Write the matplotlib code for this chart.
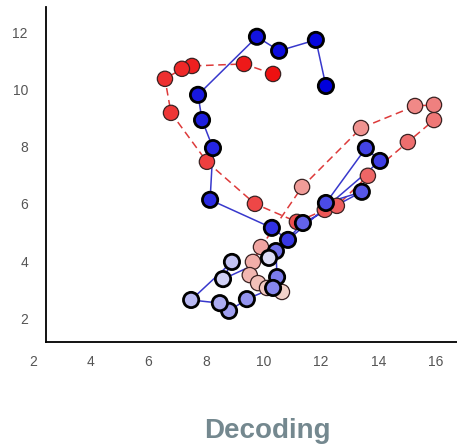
import numpy as np
import matplotlib.pyplot as plt
from matplotlib.colors import LinearSegmentedColormap

# decoded trajectory (blue, solid), in time order
blue_x = [12.18, 11.83, 10.55, 9.78, 7.73, 7.87, 8.25, 8.15, 10.30, 10.86,
          14.06, 13.57, 12.18, 13.43, 11.38, 10.44, 10.48, 10.34, 9.43, 8.81,
          8.49, 7.49, 8.91, 8.60, 10.20]
blue_y = [10.12, 11.73, 11.35, 11.84, 9.81, 8.93, 7.95, 6.14, 5.16, 4.74,
          7.50, 7.95, 6.03, 6.42, 5.33, 4.35, 3.44, 3.06, 2.67, 2.26,
          2.53, 2.64, 3.97, 3.37, 4.11]

# true trajectory (red, dashed)
red_x = [10.34, 9.33, 7.52, 7.17, 6.58, 6.79, 8.04, 9.71, 11.17, 12.14,
         12.56, 13.64, 15.03, 15.94, 15.94, 15.28, 13.40, 11.35, 9.92, 9.64,
         9.53, 9.82, 10.13, 10.65]
red_y = [10.54, 10.89, 10.82, 10.72, 10.37, 9.18, 7.47, 6.00, 5.37, 5.79,
         5.93, 6.98, 8.16, 8.93, 9.46, 9.42, 8.65, 6.59, 4.49, 3.97,
         3.51, 3.23, 3.06, 2.92]

x_ticks = [2, 4, 6, 8, 10, 12, 14, 16]
y_ticks = [2, 4, 6, 8, 10, 12]
title = "Decoding"

plt.rcParams['font.family'] = ['Liberation Sans', 'DejaVu Sans']

fig = plt.figure(figsize=(4.57, 4.47), dpi=100)
ax = fig.add_axes([0.0729, 0.2342, 0.9271, 0.7501])

blue_cmap = LinearSegmentedColormap.from_list("b", ["#0000dc", "#4a4ae6", "#dcdcf6"])
red_cmap = LinearSegmentedColormap.from_list("r", ["#ee1111", "#ee6a6a", "#f3d2ca"])
blue_cols = blue_cmap(np.linspace(0, 1, len(blue_x)))
red_cols = red_cmap(np.linspace(0, 1, len(red_x)))

ax.plot(red_x, red_y, color="#dd3a3a", lw=1.1, ls=(0, (5, 3)), zorder=1)
ax.plot(blue_x, blue_y, color="#3838cc", lw=1.1, zorder=1)
ax.scatter(red_x, red_y, s=11 ** 2, c=red_cols, edgecolors="#3a2222",
           linewidths=0.9, zorder=2)
ax.scatter(blue_x, blue_y, s=11 ** 2, c=blue_cols, edgecolors="black",
           linewidths=2.0, zorder=3)

ax.set_xlim(2, 16.74)
ax.set_ylim(1.16, 12.88)
ax.set_xticks(x_ticks)
ax.set_yticks(y_ticks)
ax.tick_params(length=0, labelsize=10, colors="#555555")
ax.tick_params(axis="y", pad=13)
ax.tick_params(axis="x", pad=9)
for sp in ["top", "right"]:
    ax.spines[sp].set_visible(False)
ax.spines["left"].set_position(("data", 2.44))
ax.spines["bottom"].set_bounds(2.44, 16.74)
ax.spines["left"].set_linewidth(1.3)
ax.spines["bottom"].set_linewidth(1.3)

fig.text(267.5 / 457, 9 / 447, title, ha="center", va="baseline",
         fontsize=20, fontweight="bold", color="#74888f")

fig.savefig("out.png", dpi=100)
